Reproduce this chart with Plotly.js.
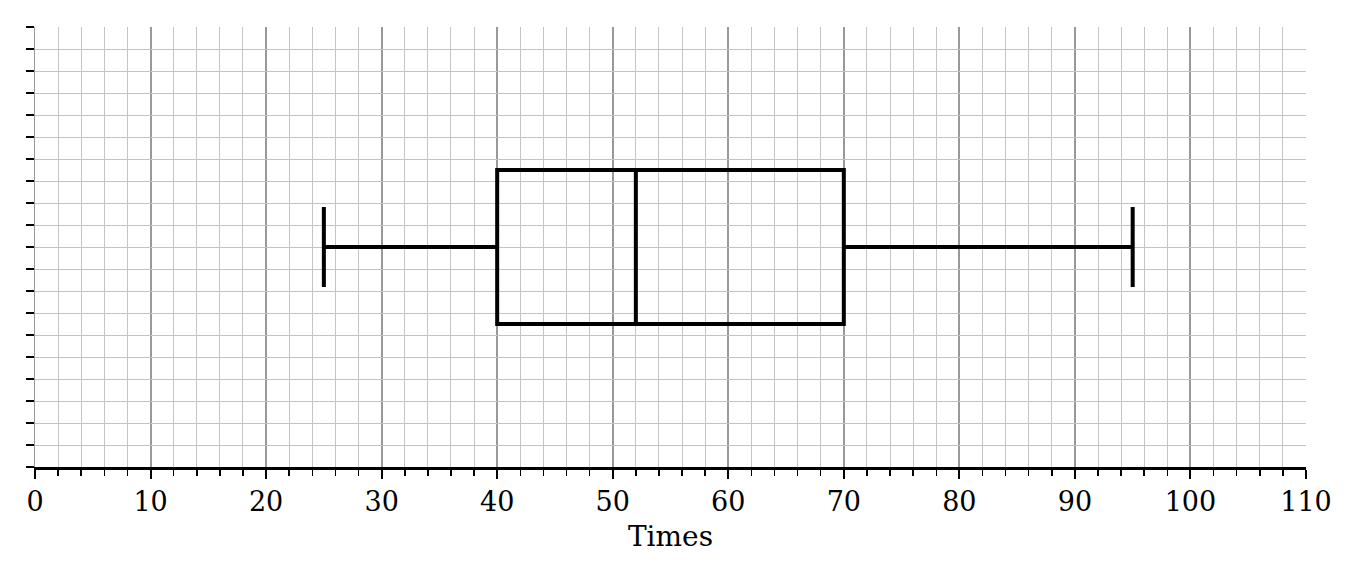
<!DOCTYPE html>
<html>
<head>
<meta charset="utf-8">
<script src="https://cdn.plot.ly/plotly-3.0.1.min.js"></script>
<style>
  html, body { margin: 0; padding: 0; background: #fff; }
  #chart { width: 1360px; height: 578px; }
</style>
</head>
<body>
<div id="chart"></div>
<script>
// box summary
var boxPos = [10];
var lowerFence = [25];
var q1 = [40];
var median = [52];
var q3 = [70];
var upperFence = [95];

var trace = {
    type: 'box',
    orientation: 'h',
    y: boxPos,
    lowerfence: lowerFence,
    q1: q1,
    median: median,
    q3: q3,
    upperfence: upperFence,
    width: 7,
    whiskerwidth: 0.52,
    boxpoints: false,
    fillcolor: 'rgba(0,0,0,0)',
    line: { color: '#000', width: 4 },
    hoverinfo: 'skip'
};

var layout = {
    width: 1360,
    height: 578,
    margin: { l: 35, r: 54, t: 27, b: 111 },
    paper_bgcolor: '#fff',
    plot_bgcolor: '#fff',
    showlegend: false,
    font: { family: 'DejaVu Serif', color: '#000', size: 27 },
    xaxis: {
        range: [0, 110],
        dtick: 10,
        tick0: 0,
        ticks: 'outside',
        ticklen: 9,
        tickwidth: 2,
        tickcolor: '#000',
        showline: true,
        linecolor: '#000',
        linewidth: 3,
        zeroline: false,
        showgrid: true,
        gridcolor: '#999',
        gridwidth: 2,
        tickfont: { family: 'DejaVu Serif', size: 27 },
        title: { text: 'Times', font: { family: 'DejaVu Serif', size: 28 }, standoff: 10 },
        minor: {
            dtick: 2,
            ticks: 'outside',
            ticklen: 6,
            tickwidth: 1.5,
            tickcolor: '#000',
            showgrid: true,
            gridcolor: '#c4c4c4',
            gridwidth: 1
        },
        fixedrange: true
    },
    yaxis: {
        range: [0, 20],
        dtick: 1,
        tick0: 0,
        ticks: 'outside',
        ticklen: 8,
        tickwidth: 2,
        tickcolor: '#000',
        showticklabels: false,
        showline: true,
        linecolor: '#999',
        linewidth: 1.5,
        zeroline: false,
        showgrid: true,
        gridcolor: '#c4c4c4',
        gridwidth: 1,
        fixedrange: true
    }
};

Plotly.newPlot('chart', [trace], layout, { displayModeBar: false, staticPlot: true });
</script>
</body>
</html>
